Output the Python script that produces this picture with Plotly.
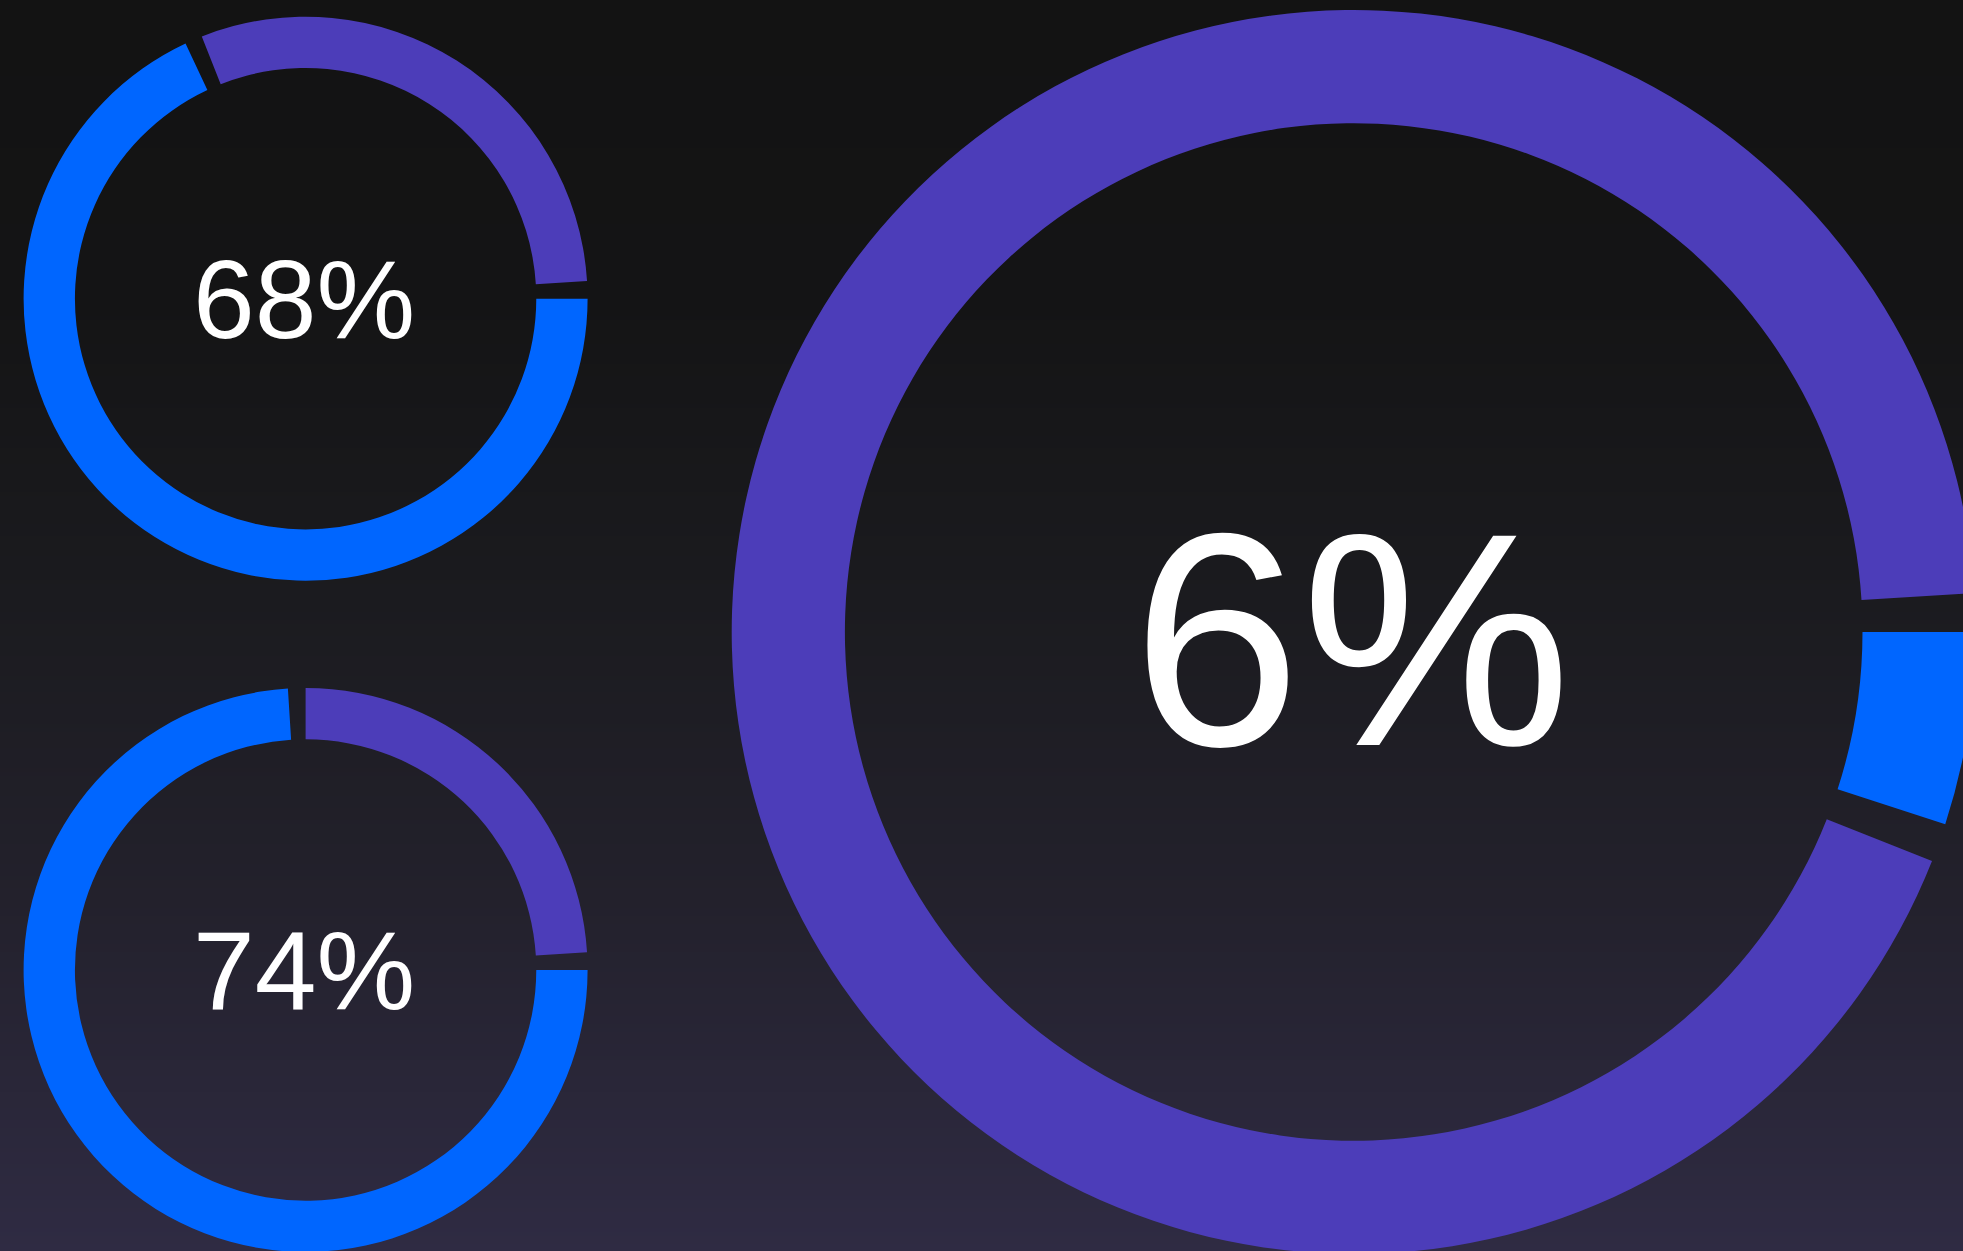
import plotly.graph_objects as go

# ---- data ----
gauge_names = ["top_left", "bottom_left", "big"]
arc_percent = [68, 74, 5]          # share of the ring drawn in blue
label_percent = [68, 74, 6]        # number printed in the centre

# ---- styling ----
VIEW_W, VIEW_H = 1963, 1251
# the big ring runs a little past the right/bottom edge of the view,
# so the figure is slightly larger than the window and the page clips it
W, H = 1976, 1254
BLUE = "#0066ff"
PURPLE = "#4c3db9"
CLEAR = "rgba(0,0,0,0)"
GAP = 1  # gap after each arc, in percent of the ring
HOLE = 0.818
FONT = "Liberation Sans, Arial, sans-serif"

# pie boxes in pixels (x0, x1, y0_top, y1_top)
boxes = [
    (23.6, 587.6, 16.7, 580.7),
    (23.6, 587.6, 688.0, 1252.0),
    (731.7, 1975.7, 10.0, 1254.0),
]
# label centres in pixels and font sizes
label_pos = [(304, 300), (304, 971), (1351.5, 639.5)]
label_size = [111, 111, 304]

fig = go.Figure()

for name, v, (x0, x1, y0, y1) in zip(gauge_names, arc_percent, boxes):
    vals = [v, GAP, 100 - v - 2 * GAP, GAP]
    fig.add_trace(go.Pie(
        values=vals,
        labels=[f"{name}_value", f"{name}_gap1", f"{name}_rest", f"{name}_gap2"],
        marker=dict(colors=[BLUE, CLEAR, PURPLE, CLEAR], line=dict(width=0)),
        hole=HOLE,
        sort=False,
        direction="clockwise",
        rotation=90,
        textinfo="none",
        hoverinfo="skip",
        showlegend=False,
        domain=dict(x=[x0 / W, min(x1 / W, 1)], y=[max(0, 1 - y1 / H), 1 - y0 / H]),
    ))

annotations = []
for p, (px, py), fs in zip(label_percent, label_pos, label_size):
    annotations.append(dict(
        text=f"{p}%", x=px / W, y=1 - py / H, xref="paper", yref="paper",
        xanchor="center", yanchor="middle", showarrow=False,
        font=dict(family=FONT, size=fs, color="#ffffff"),
    ))

# vertical background gradient (piecewise linear stops, in pixels from top)
stops = [(0, (19, 19, 19)), (300, (20, 20, 21)), (600, (27, 27, 31)),
         (900, (35, 33, 44)), (1251, (47, 43, 67)), (1254, (47, 43, 67))]


def bg_color(y):
    for (ya, ca), (yb, cb) in zip(stops[:-1], stops[1:]):
        if ya <= y <= yb:
            t = (y - ya) / (yb - ya)
            return "rgb(%d,%d,%d)" % tuple(round(a + t * (b - a)) for a, b in zip(ca, cb))
    return "rgb(%d,%d,%d)" % stops[-1][1]


shapes = []
step = 4
for y in range(0, H, step):
    shapes.append(dict(
        type="rect", xref="paper", yref="paper", layer="below",
        x0=0, x1=1, y0=max(0, 1 - (y + step + 1) / H), y1=1 - y / H,
        fillcolor=bg_color(y + step / 2), line=dict(width=0),
    ))

fig.update_layout(
    width=W, height=H,
    margin=dict(l=0, r=0, t=0, b=0),
    paper_bgcolor="#131313",
    plot_bgcolor="#131313",
    annotations=annotations,
    shapes=shapes,
)

fig.write_html(
    "out.html",
    config={"displayModeBar": False},
    post_script=(
        "document.body.style.margin='0';"
        "document.body.style.overflow='hidden';"
        "document.documentElement.style.overflow='hidden';"
    ),
)
